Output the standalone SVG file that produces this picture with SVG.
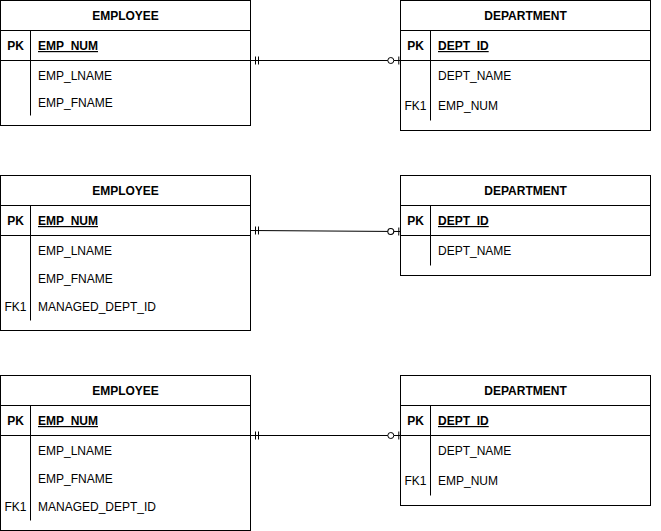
<svg xmlns="http://www.w3.org/2000/svg" width="661" height="531" viewBox="0 0 661 531">
<style>
.box{fill:#fff;stroke:#000;stroke-width:1}
.ln{stroke:#000;stroke-width:1;fill:none}
text{font-family:"Liberation Sans",Arial,Helvetica,sans-serif;font-size:12px;fill:#000}
.h{font-weight:bold;text-anchor:middle}
.k{text-anchor:middle}
.kb{font-weight:bold;text-anchor:middle}
.pk{font-weight:bold;text-decoration:underline}
</style>
<defs>
<marker id="mandOne" markerUnits="userSpaceOnUse" markerWidth="14" markerHeight="12" refX="0" refY="6" orient="auto" overflow="visible">
<path d="M5,2 V10 M8,2 V10" stroke="#000" stroke-width="1" fill="none"/>
</marker>
<marker id="zeroOne" markerUnits="userSpaceOnUse" markerWidth="14" markerHeight="12" refX="14" refY="6" orient="auto" overflow="visible">
<circle cx="4.3" cy="6" r="3" fill="#fff" stroke="#000" stroke-width="1"/>
<path d="M12.3,2 V10" stroke="#000" stroke-width="1" fill="none"/>
</marker>
</defs>
<g id="connectors">
<path class="ln" d="M250.5,60.5 L400.5,60.5" marker-start="url(#mandOne)" marker-end="url(#zeroOne)"/>
<path class="ln" d="M250.5,230.5 L400.5,231.5" marker-start="url(#mandOne)" marker-end="url(#zeroOne)"/>
<path class="ln" d="M250.5,435.5 L400.5,435.5" marker-start="url(#mandOne)" marker-end="url(#zeroOne)"/>
</g>
<g id="employee1">
<rect class="box" x="0.5" y="0.5" width="250" height="125"/>
<path class="ln" d="M0.5,30.5 H250.5 M0.5,60.5 H250.5 M30.5,30.5 V115.5"/>
<text class="h" x="125.5" y="20">EMPLOYEE</text>
<text class="kb" x="15.5" y="50">PK</text>
<text class="pk" x="38" y="50">EMP_NUM</text>
<text x="38" y="80">EMP_LNAME</text>
<text x="38" y="107">EMP_FNAME</text>
</g>
<g id="department1">
<rect class="box" x="400.5" y="0.5" width="250" height="130"/>
<path class="ln" d="M400.5,30.5 H650.5 M400.5,60.5 H650.5 M430.5,30.5 V120.5"/>
<text class="h" x="525.5" y="20">DEPARTMENT</text>
<text class="kb" x="415.5" y="50">PK</text>
<text class="pk" x="438" y="50">DEPT_ID</text>
<text x="438" y="80">DEPT_NAME</text>
<text class="k" x="415.5" y="110">FK1</text>
<text x="438" y="110">EMP_NUM</text>
</g>
<g id="employee2">
<rect class="box" x="0.5" y="175.5" width="250" height="155"/>
<path class="ln" d="M0.5,205.5 H250.5 M0.5,235.5 H250.5 M30.5,205.5 V320.5"/>
<text class="h" x="125.5" y="195">EMPLOYEE</text>
<text class="kb" x="15.5" y="225">PK</text>
<text class="pk" x="38" y="225">EMP_NUM</text>
<text x="38" y="255">EMP_LNAME</text>
<text x="38" y="283">EMP_FNAME</text>
<text class="k" x="15.5" y="311">FK1</text>
<text x="38" y="311">MANAGED_DEPT_ID</text>
</g>
<g id="department2">
<rect class="box" x="400.5" y="175.5" width="250" height="100"/>
<path class="ln" d="M400.5,205.5 H650.5 M400.5,235.5 H650.5 M430.5,205.5 V265.5"/>
<text class="h" x="525.5" y="195">DEPARTMENT</text>
<text class="kb" x="415.5" y="225">PK</text>
<text class="pk" x="438" y="225">DEPT_ID</text>
<text x="438" y="255">DEPT_NAME</text>
</g>
<g id="employee3">
<rect class="box" x="0.5" y="375.5" width="250" height="155"/>
<path class="ln" d="M0.5,405.5 H250.5 M0.5,435.5 H250.5 M30.5,405.5 V520.5"/>
<text class="h" x="125.5" y="395">EMPLOYEE</text>
<text class="kb" x="15.5" y="425">PK</text>
<text class="pk" x="38" y="425">EMP_NUM</text>
<text x="38" y="455">EMP_LNAME</text>
<text x="38" y="483">EMP_FNAME</text>
<text class="k" x="15.5" y="511">FK1</text>
<text x="38" y="511">MANAGED_DEPT_ID</text>
</g>
<g id="department3">
<rect class="box" x="400.5" y="375.5" width="250" height="130"/>
<path class="ln" d="M400.5,405.5 H650.5 M400.5,435.5 H650.5 M430.5,405.5 V495.5"/>
<text class="h" x="525.5" y="395">DEPARTMENT</text>
<text class="kb" x="415.5" y="425">PK</text>
<text class="pk" x="438" y="425">DEPT_ID</text>
<text x="438" y="455">DEPT_NAME</text>
<text class="k" x="415.5" y="485">FK1</text>
<text x="438" y="485">EMP_NUM</text>
</g>
</svg>
